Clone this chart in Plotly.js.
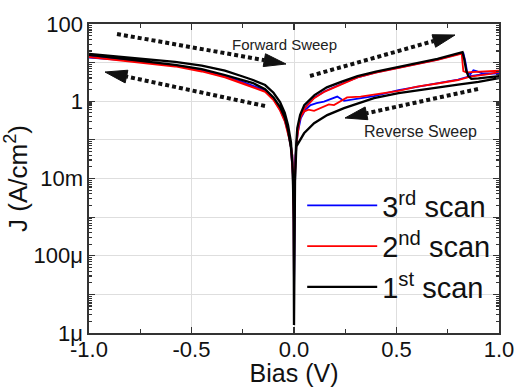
<!DOCTYPE html>
<html>
<head>
<meta charset="utf-8">
<script src="https://cdn.plot.ly/plotly-3.0.1.min.js"></script>
<style>html,body{margin:0;padding:0;background:#fff;}#chart{width:517px;height:387px;}</style>
</head>
<body>
<div id="chart"></div>
<script>
// ---- Data (Bias in V, J in A/cm^2) ----
// 1st scan (black)
const scan1FwdBias = [-1, -0.8, -0.58, -0.45, -0.337, -0.25, -0.2, -0.141, -0.1, -0.068, -0.045, -0.029, -0.015, -0.006, -0.002, 0, 0.002, 0.005, 0.01, 0.016, 0.03, 0.05, 0.1, 0.16, 0.23, 0.31, 0.4, 0.5, 0.6, 0.7, 0.8, 0.822, 0.83, 0.84, 0.85, 0.865, 0.9, 0.95, 1.0];
const scan1FwdJ    = [16.7, 13.5, 10.5, 8.32, 6.17, 4.37, 3.55, 2.63, 1.66, 0.955, 0.5, 0.24, 0.089, 0.016, 0.001, 1.6e-6, 0.001, 0.01, 0.063, 0.2, 0.447, 0.794, 1.445, 2.291, 3.162, 4.467, 5.888, 7.586, 9.772, 12.59, 17.38, 18.62, 12.59, 6.31, 4.571, 3.802, 3.89, 4.169, 4.467];
const scan1RevBias = [1.0, 0.9, 0.8, 0.72, 0.6, 0.51, 0.39, 0.325, 0.244, 0.162, 0.098, 0.049, 0.03, 0.016, 0.012, 0.008, 0.004, 0.001, 0, -0.001, -0.004, -0.008, -0.015, -0.029, -0.045, -0.068, -0.1, -0.141, -0.2, -0.337, -0.45, -0.58, -0.8, -1];
const scan1RevJ    = [3.98, 3.16, 2.69, 2.34, 1.95, 1.62, 1.2, 0.912, 0.661, 0.437, 0.269, 0.148, 0.1, 0.074, 0.079, 0.032, 0.0063, 3.2e-4, 3.2e-6, 3.2e-4, 0.005, 0.025, 0.063, 0.178, 0.38, 0.708, 1.259, 2.042, 2.951, 4.786, 6.761, 8.71, 12.02, 15.85];
// 2nd scan (red)
const scan2FwdBias = [-1, -0.8, -0.58, -0.45, -0.337, -0.25, -0.141, -0.1, -0.068, -0.045, -0.029, -0.015, -0.006, -0.002, 0, 0.002, 0.006, 0.012, 0.02, 0.027, 0.05, 0.098, 0.15, 0.195, 0.259, 0.31, 0.4, 0.5, 0.6, 0.7, 0.8, 0.818, 0.822, 0.826, 0.84, 0.9, 1.0];
const scan2FwdJ    = [14.1, 11.0, 8.13, 6.03, 4.27, 2.95, 1.78, 1.12, 0.589, 0.316, 0.158, 0.063, 0.0126, 0.001, 1e-5, 0.001, 0.016, 0.079, 0.2, 0.324, 0.631, 1.2, 1.78, 2.29, 3.16, 4.17, 5.5, 7.08, 9.12, 11.75, 16.2, 17.0, 10.0, 6.03, 5.62, 5.89, 6.17];
const scan2RevBias = [1.0, 0.95, 0.86, 0.8, 0.7, 0.6, 0.51, 0.39, 0.325, 0.259, 0.227, 0.195, 0.17, 0.146, 0.12, 0.098, 0.07, 0.049, 0.035, 0.025, 0.015, 0.008, 0.003, 0, -0.003, -0.008, -0.015, -0.029, -0.045, -0.068, -0.1, -0.141, -0.25, -0.337, -0.45, -0.58, -0.8, -1];
const scan2RevJ    = [5.75, 5.01, 4.37, 3.55, 2.88, 2.4, 1.86, 1.45, 1.32, 1.26, 1.02, 0.794, 0.832, 0.724, 0.631, 0.562, 0.603, 0.537, 0.417, 0.295, 0.126, 0.04, 0.0063, 1e-5, 0.0063, 0.04, 0.0708, 0.151, 0.302, 0.575, 1.07, 1.74, 2.88, 4.17, 5.89, 7.94, 10.7, 13.8];
// 3rd scan (blue)
const scan3FwdBias = [-1, -0.8, -0.58, -0.45, -0.337, -0.25, -0.141, -0.1, -0.068, -0.045, -0.029, -0.015, -0.006, -0.002, 0, 0.002, 0.006, 0.012, 0.02, 0.027, 0.05, 0.098, 0.15, 0.195, 0.259, 0.31, 0.4, 0.5, 0.6, 0.7, 0.8, 0.826, 0.835, 0.845, 0.86, 0.875, 0.89, 0.92, 1.0];
const scan3FwdJ    = [13.5, 11.2, 8.32, 6.31, 4.52, 3.16, 1.91, 1.17, 0.631, 0.339, 0.166, 0.063, 0.0126, 0.001, 1e-5, 0.001, 0.016, 0.079, 0.209, 0.339, 0.661, 1.23, 1.82, 2.34, 3.24, 4.17, 5.62, 7.24, 9.33, 12.0, 16.6, 17.8, 11.2, 5.62, 5.01, 6.31, 6.03, 5.25, 5.25];
const scan3RevBias = [1.0, 0.95, 0.9, 0.86, 0.8, 0.7, 0.6, 0.51, 0.39, 0.325, 0.276, 0.244, 0.211, 0.18, 0.146, 0.11, 0.081, 0.055, 0.033, 0.015, 0.006, 0, -0.003, -0.008, -0.015, -0.029, -0.045, -0.068, -0.1, -0.141, -0.25, -0.337, -0.45, -0.58, -0.8, -1];
const scan3RevJ    = [5.25, 5.13, 4.79, 4.47, 3.63, 2.95, 2.45, 1.95, 1.35, 1.2, 1.12, 1.02, 1.32, 1.15, 0.977, 0.891, 0.794, 0.603, 0.363, 0.126, 0.032, 1e-5, 0.0063, 0.04, 0.0708, 0.158, 0.316, 0.603, 1.12, 1.86, 3.02, 4.37, 6.17, 8.32, 11.2, 14.5];

const seriesNames = ['3<sup>rd</sup> scan', '2<sup>nd</sup> scan', '1<sup>st</sup> scan'];
const xTickVals = [-1, -0.5, 0, 0.5, 1];
const xTickText = ['-1.0', '-0.5', '0.0', '0.5', '1.0'];
const yTickVals = [1e-6, 1e-5, 1e-4, 1e-3, 1e-2, 1e-1, 1, 10, 100];
const yTickText = ['1μ', '', '100μ', '', '10m', '', '1', '', '100'];

// minor log ticks (2..9 x each decade)
const yMinor = [];
for (let e = -6; e < 2; e++) for (let m = 2; m <= 9; m++) yMinor.push(m * Math.pow(10, e));

const FONT = 'Liberation Sans, Arial, sans-serif';

const traces = [
  {x: scan3FwdBias.concat(scan3RevBias), y: scan3FwdJ.concat(scan3RevJ), name: seriesNames[0],
   mode: 'lines', line: {color: '#0000ff', width: 1.8}},
  {x: scan2FwdBias.concat(scan2RevBias), y: scan2FwdJ.concat(scan2RevJ), name: seriesNames[1],
   mode: 'lines', line: {color: '#ff0000', width: 1.8}},
  {x: scan1FwdBias.concat(scan1RevBias), y: scan1FwdJ.concat(scan1RevJ), name: seriesNames[2],
   mode: 'lines', line: {color: '#000000', width: 2.3}}
];

// plot area in pixels: x 89..499, y 24..333
const L = 89, R = 499, T = 24, B = 333;
function P(px, py) { return [(px - L) / (R - L), (B - py) / (B - T)]; }
const shapes = [];
function arrow(tail, tip) {
  const dx = tip[0] - tail[0], dy = tip[1] - tail[1];
  const len = Math.hypot(dx, dy), ux = dx / len, uy = dy / len;
  const base = [tip[0] - 22 * ux, tip[1] - 22 * uy];
  const a = P(tail[0], tail[1]), b = P(base[0], base[1]);
  shapes.push({type: 'line', xref: 'paper', yref: 'paper', x0: a[0], y0: a[1], x1: b[0], y1: b[1],
    line: {color: '#111', width: 4, dash: '4px,3px'}});
  const px = -uy, py = ux, hw = 6.5;
  const p1 = P(tip[0], tip[1]);
  const p2 = P(base[0] + px * hw, base[1] + py * hw);
  const p3 = P(base[0] - px * hw, base[1] - py * hw);
  shapes.push({type: 'path', xref: 'paper', yref: 'paper',
    path: `M${p1[0]},${p1[1]} L${p2[0]},${p2[1]} L${p3[0]},${p3[1]} Z`,
    fillcolor: '#111', line: {color: '#111', width: 1}});
}
arrow([117, 34], [286, 64]);
arrow([265, 106], [105, 72]);
arrow([310, 76], [455, 35]);
arrow([478, 89], [345, 118]);

const fw = P(284, 44), rv = P(420, 131);
const annotations = [
  {xref: 'paper', yref: 'paper', x: fw[0], y: fw[1], xanchor: 'center', yanchor: 'middle',
   text: 'Forward Sweep', showarrow: false, font: {family: FONT, size: 15, color: '#222'}},
  {xref: 'paper', yref: 'paper', x: rv[0], y: rv[1], xanchor: 'center', yanchor: 'middle',
   text: 'Reverse Sweep', showarrow: false, font: {family: FONT, size: 16, color: '#222'}}
];

const axisCommon = {
  showline: true, linecolor: '#333', linewidth: 1.6, mirror: 'ticks',
  ticks: 'inside', ticklen: 6, tickwidth: 1.2, tickcolor: '#333',
  showgrid: true, gridcolor: '#dedede', gridwidth: 1, zeroline: false,
  tickfont: {family: FONT, size: 22, color: '#111'}
};

const layout = {
  width: 517, height: 387,
  margin: {l: L, r: 517 - R, t: T, b: 387 - B},
  paper_bgcolor: '#ffffff', plot_bgcolor: '#ffffff',
  showlegend: true,
  legend: {x: 0.52, y: 0.495, xanchor: 'left', yanchor: 'top', bgcolor: 'rgba(0,0,0,0)',
    font: {family: FONT, size: 29, color: '#111'}, itemwidth: 70, traceorder: 'normal'},
  xaxis: Object.assign({}, axisCommon, {
    range: [-1, 1], tickmode: 'array', tickvals: xTickVals, ticktext: xTickText,
    ticklabelstandoff: -4,
    minor: {dtick: 0.25, ticks: 'inside', ticklen: 4, tickcolor: '#333', showgrid: false},
    title: {text: 'Bias (V)', font: {family: FONT, size: 25, color: '#111'}, standoff: 13}
  }),
  yaxis: Object.assign({}, axisCommon, {
    type: 'log', range: [-6, 2], tickmode: 'array', tickvals: yTickVals, ticktext: yTickText,
    minor: {tickmode: 'array', tickvals: yMinor, ticks: 'inside', ticklen: 3, tickcolor: '#333', showgrid: false},
    title: {text: 'J (A/cm<sup>2</sup>)', font: {family: FONT, size: 26, color: '#111'}, standoff: 0}
  }),
  shapes: shapes,
  annotations: annotations
};

Plotly.newPlot('chart', traces, layout, {staticPlot: true, displayModeBar: false});
</script>
</body>
</html>
